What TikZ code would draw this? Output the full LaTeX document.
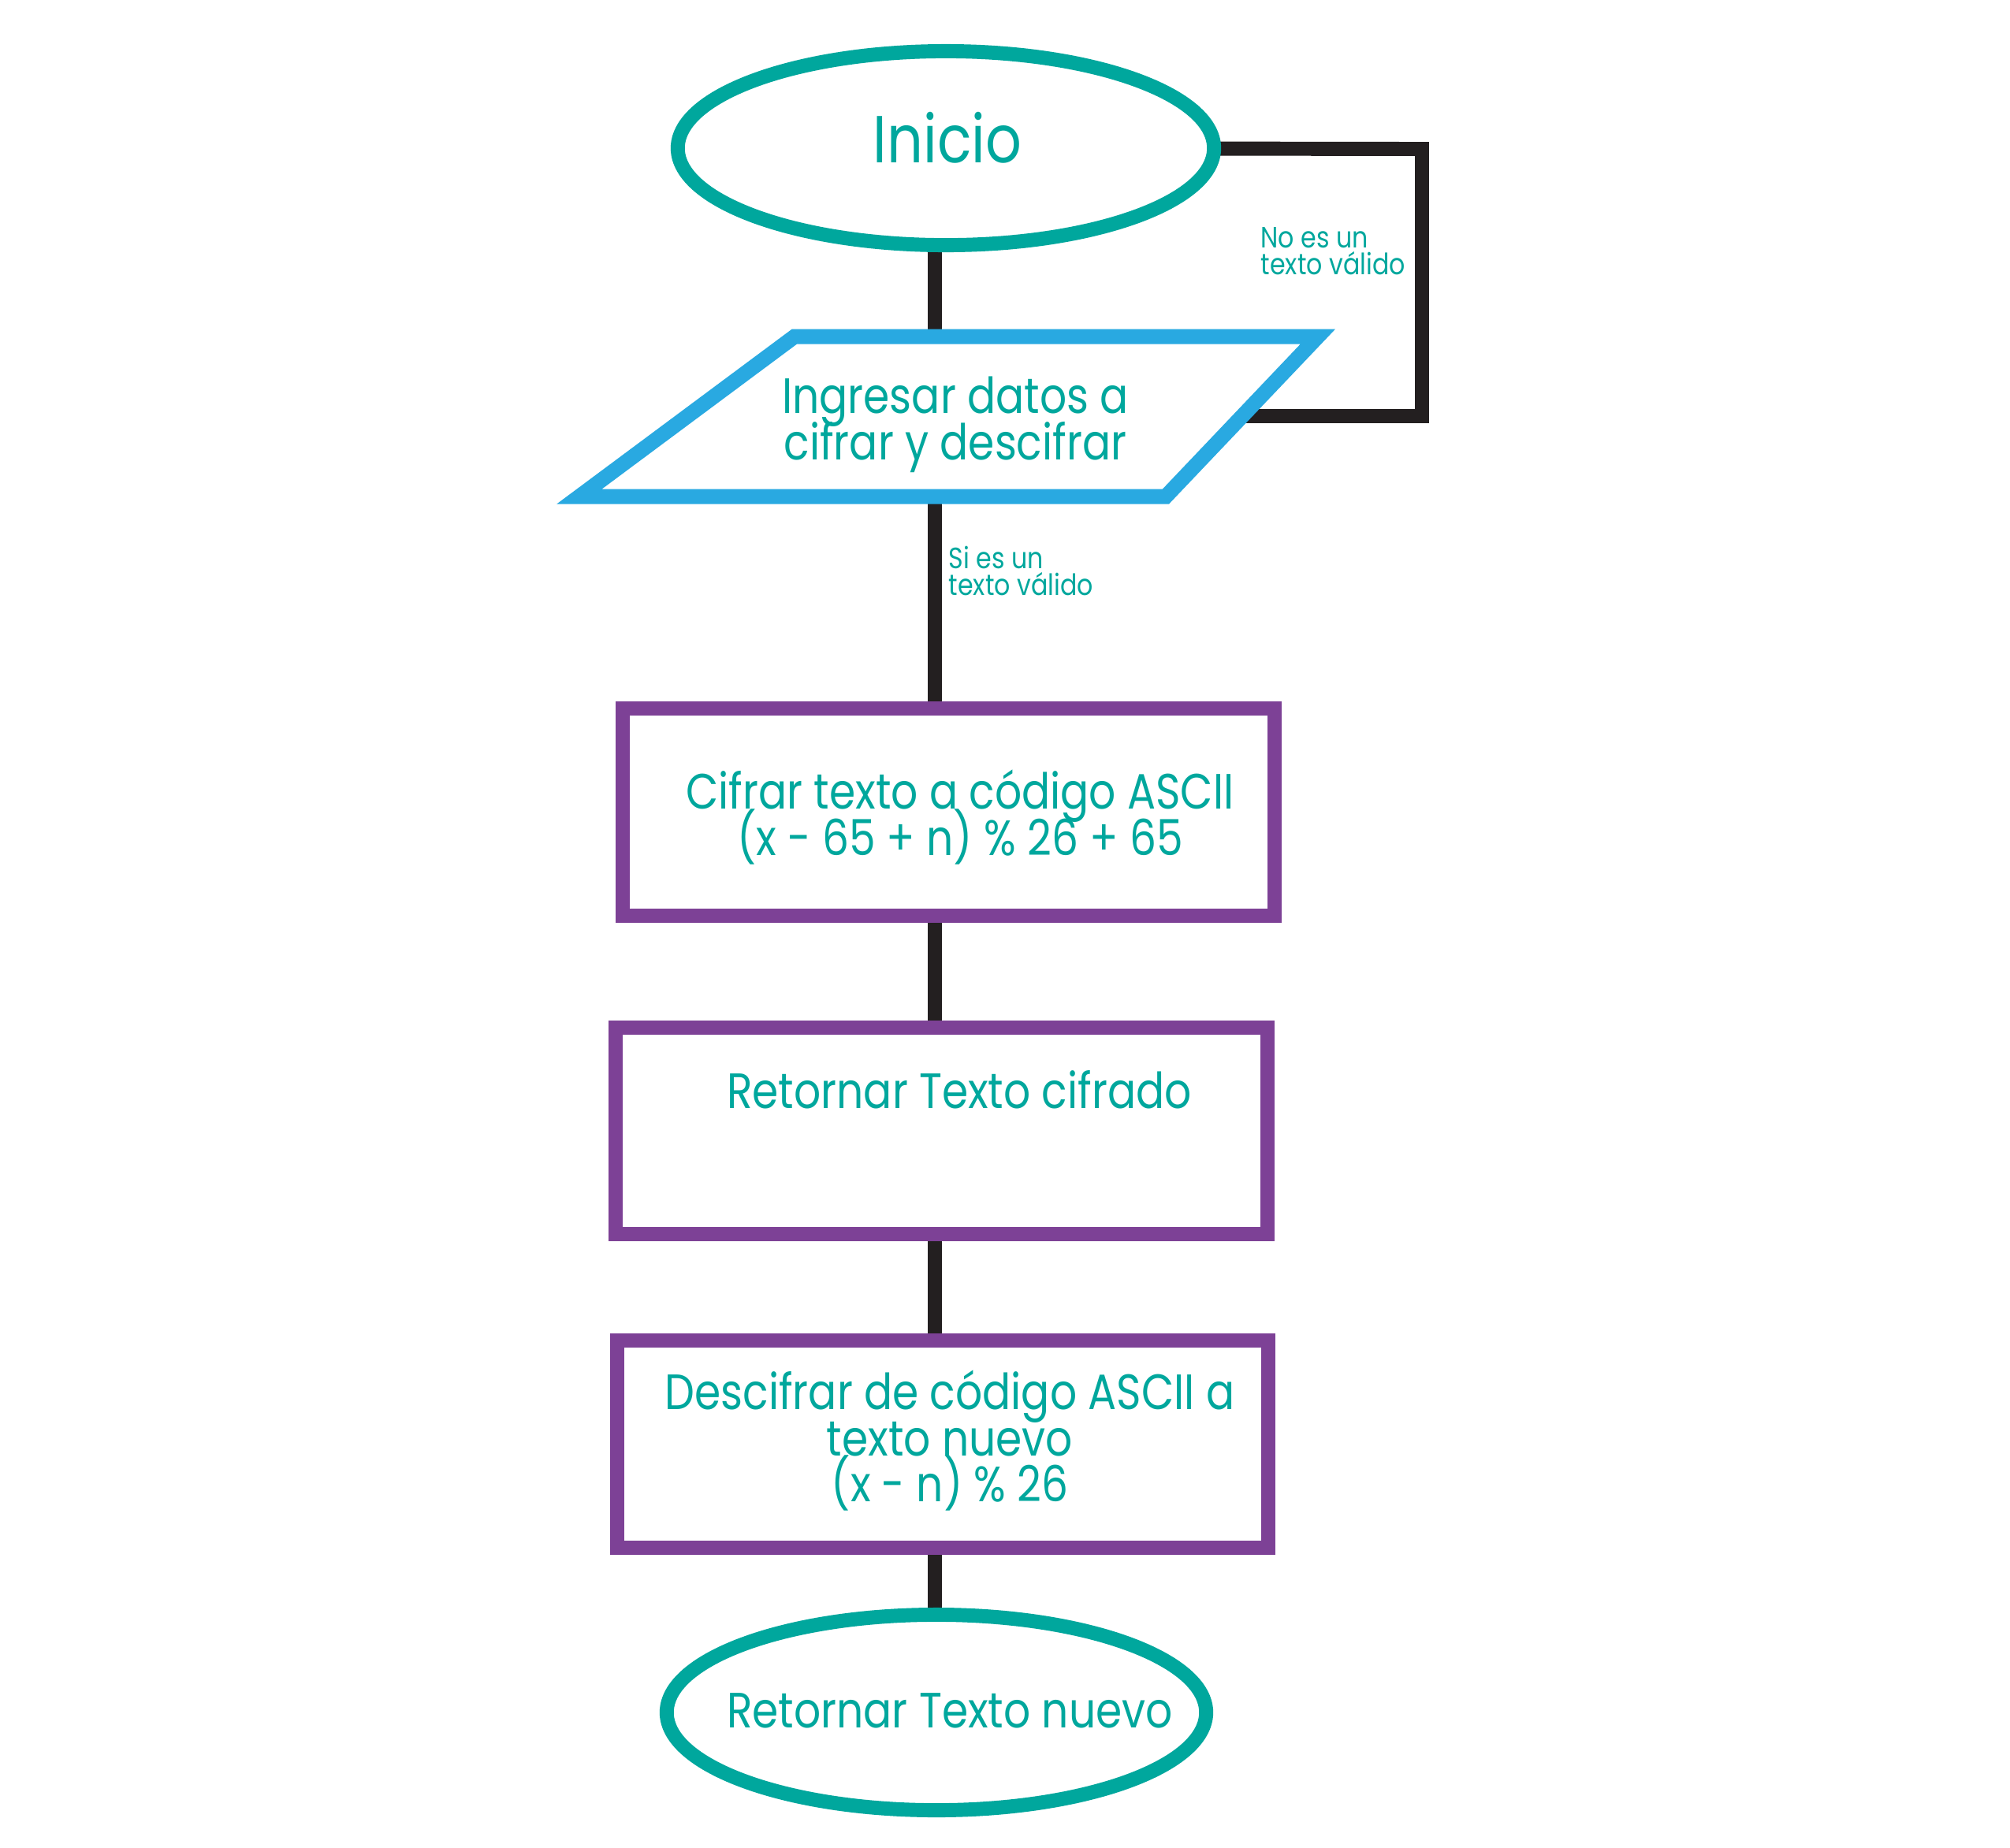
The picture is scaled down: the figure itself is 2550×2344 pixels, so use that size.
\documentclass[tikz,border=0pt]{standalone}
\usepackage{fontspec}
\setmainfont[FakeStretch=0.85]{Poppins}
\usetikzlibrary{shapes.geometric,backgrounds}
\definecolor{fcTeal}{HTML}{00A79D}
\definecolor{fcBlue}{HTML}{29A9E1}
\definecolor{fcPurple}{HTML}{7D4196}
\definecolor{fcBlack}{HTML}{231F20}
\newcommand\fcMainFont{\fontsize{17.9}{16.5}\selectfont\lineskiplimit -100pt\relax}
\newcommand\fcLblFont{\fontsize{10.6}{9.4}\selectfont\lineskiplimit -100pt\relax}
\begin{document}
\begin{tikzpicture}[x=0.01cm,y=-0.01cm,
  term/.style={ellipse, draw=fcTeal, line width=5.1pt, fill=white, minimum width=6.8cm, minimum height=2.46cm, inner sep=0pt},
  proc/.style={rectangle, draw=fcPurple, line width=5.1pt, fill=white, minimum width=8.26cm, minimum height=2.62cm, inner sep=0pt},
  conn/.style={draw=fcBlack, line width=5.1pt},
  txt/.style={text=fcTeal, font=\fcMainFont, align=center, inner sep=0pt, anchor=base},
  lbl/.style={text=fcTeal, font=\fcLblFont, align=left, inner sep=0pt, anchor=base west}]
\useasboundingbox (0,0) rectangle (2550,2344);
% shapes
\node[term] (inicio) at (1200,188) {};
\draw[fill=white, draw=fcBlue, line width=5.4pt, line join=miter] (1008,427) -- (1672,427) -- (1479,630) -- (735,630) -- cycle;
\coordinate (ing) at (1186,528);
\node[proc] (cifrar) at (1203.5,1030.5) {};
\node[proc] (retC) at (1194.5,1435) {};
\node[proc] (desc) at (1196,1832.5) {};
\node[term, minimum width=6.84cm, minimum height=2.48cm] (fin) at (1188,2173) {};
% connectors
\coordinate (spine) at (1186,0);
\coordinate (loopA) at (1804,189);
\coordinate (loopB) at (1804,528);
\coordinate (qR) at (1576,528);
\begin{scope}[on background layer]
\draw[conn] (spine |- inicio.center) -- (spine |- ing);
\draw[conn] (spine |- ing) -- (spine |- cifrar.center);
\draw[conn] (spine |- cifrar.center) -- (spine |- retC.center);
\draw[conn] (spine |- retC.center) -- (spine |- desc.center);
\draw[conn] (spine |- desc.center) -- (spine |- fin.center);
\draw[conn] (inicio.center) -- (loopA) -- (loopB) -- (qR);
\end{scope}
% texts (multi-line nodes: base = last line's baseline)
\node[txt, font=\fontsize{24}{24}\selectfont] (inicioT) at (1202,206) {Inicio};
\node[txt] (ingT) at (1212,583) {Ingresar datos a\\cifrar y descifrar};
\node[txt] (cifrarT) at (1218,1085) {Cifrar texto a código ASCII\\(x - 65 + n) \% 26 + 65};
\node[txt] (retCT) at (1217,1406) {Retornar Texto cifrado};
\node[txt] (descT) at (1205,1905) {Descifrar de código ASCII a\\texto nuevo\\(x - n) \% 26};
\node[txt] (finT) at (1205,2192) {Retornar Texto nuevo};
\node[lbl] (noT) at (1599,348) {No es un\\texto válido};
\node[lbl] (siT) at (1203,755) {Si es un\\texto válido};
\end{tikzpicture}
\end{document}
